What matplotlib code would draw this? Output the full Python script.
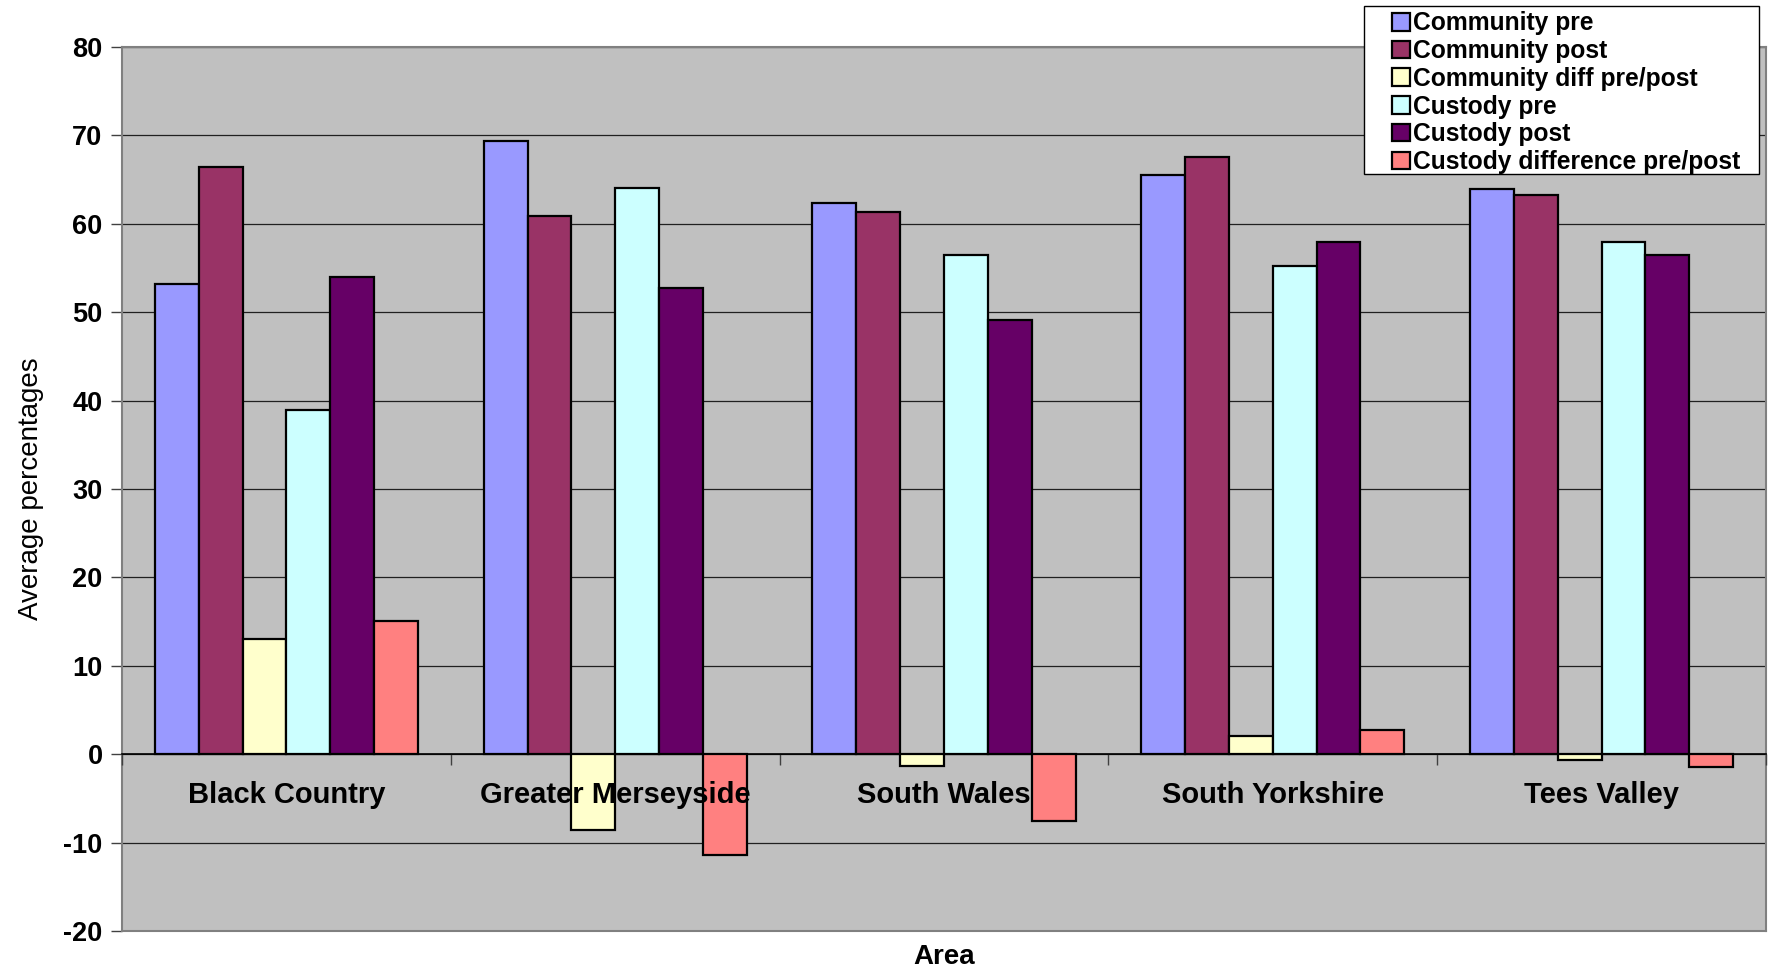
import matplotlib
matplotlib.use("Agg")
import matplotlib.pyplot as plt
import numpy as np
from matplotlib.ticker import FixedLocator, NullFormatter
from matplotlib.patches import Rectangle

areas = ["Black Country", "Greater Merseyside", "South Wales", "South Yorkshire", "Tees Valley"]
series_names = ["Community pre", "Community post", "Community diff pre/post",
                "Custody pre", "Custody post", "Custody difference pre/post"]
community_pre = [53.2, 69.4, 62.4, 65.5, 63.9]
community_post = [66.4, 60.9, 61.3, 67.6, 63.3]
community_diff = [13.0, -8.6, -1.3, 2.1, -0.6]
custody_pre = [38.9, 64.1, 56.5, 55.2, 57.9]
custody_post = [54.0, 52.7, 49.1, 57.9, 56.5]
custody_diff = [15.1, -11.4, -7.6, 2.7, -1.5]
colors = ["#9999FF", "#993366", "#FFFFCC", "#CCFFFF", "#660066", "#FF8080"]
yticks = list(range(-20, 81, 10))

all_series = [community_pre, community_post, community_diff,
              custody_pre, custody_post, custody_diff]

plt.rcParams['font.family'] = ['Liberation Sans', 'DejaVu Sans']

fig = plt.figure(figsize=(17.71, 9.69), dpi=100)
ax = fig.add_axes([122/1771, 1-931/969, (1766-122)/1771, (931-47)/969])
ax.set_facecolor("#C0C0C0")

n = len(all_series)
group_w = 0.8
bw = group_w / n
x = np.arange(len(areas))
for i, (vals, c, name) in enumerate(zip(all_series, colors, series_names)):
    ax.bar(x - group_w/2 + bw*(i+0.5), vals, width=bw, color=c,
           edgecolor="black", linewidth=1.6, label=name, zorder=3)

ax.set_xlim(-0.5, len(areas)-0.5)
ax.set_ylim(-20, 80)
ax.set_yticks(yticks)
ax.set_yticklabels([str(v) for v in yticks], fontsize=19.5, fontweight="bold")
ax.tick_params(axis="y", direction="out", length=8, width=1, color="#404040", pad=6)
ax.yaxis.grid(True, color="#202020", linewidth=0.9, zorder=1)
ax.set_axisbelow(True)

ax.set_xticks([])
ax.set_xlabel("Area", fontsize=20, fontweight="bold", labelpad=9)
ax.set_ylabel("Average percentages", fontsize=20,
              family=['Liberation Sans Narrow', 'Liberation Sans'], labelpad=14)

for s in ["left", "right", "top", "bottom"]:
    ax.spines[s].set_color("#808080")
    ax.spines[s].set_linewidth(1.5)

# category axis at zero
sec = ax.secondary_xaxis(0.2)
sec.set_zorder(5)
sec.spines["bottom"].set_color("black")
sec.spines["bottom"].set_linewidth(1.2)
sec.set_xticks(x)
sec.set_xticklabels(areas, fontsize=21, fontweight="bold")
sec.tick_params(axis="x", which="major", length=0, pad=19)
sec.xaxis.set_minor_locator(FixedLocator(list(np.arange(len(areas)+1) - 0.5)))
sec.xaxis.set_minor_formatter(NullFormatter())
sec.tick_params(axis="x", which="minor", length=8, width=1, color="#404040", direction="out")

# legend frame
fig.patches.append(Rectangle((1364/1771, 1-174/969), (1759-1364)/1771, (174-6)/969,
                             transform=fig.transFigure, facecolor="white",
                             edgecolor="black", linewidth=1.0, zorder=9))
leg = fig.legend(loc="upper left", bbox_to_anchor=(1390/1771, 1-9/969),
                 prop={"size": 17.7, "weight": "bold"}, frameon=False,
                 labelspacing=0.15,
                 handlelength=0.72, handleheight=0.72, handletextpad=0.12,
                 borderpad=0.1, borderaxespad=0)
leg.set_zorder(10)

fig.savefig("out.png", dpi=100, facecolor="white")
